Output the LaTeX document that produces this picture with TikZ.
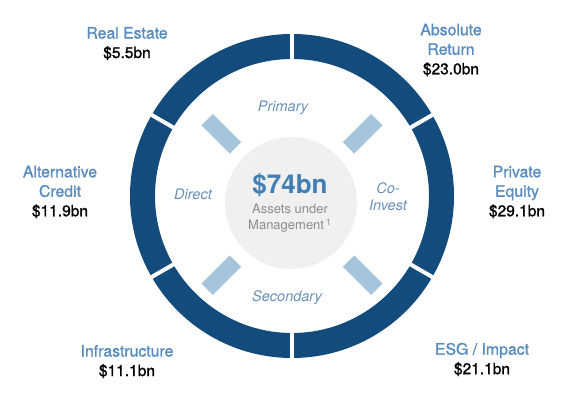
\documentclass[tikz,border=0pt]{standalone}
\usepackage{fontspec}
\setmainfont{TeX Gyre Heros}
\newfontfamily\labelfont[FakeBold=1.2]{TeX Gyre Heros}
\usepackage{xcolor}
\usepackage{tikz}
\usetikzlibrary{positioning}

\definecolor{ringblue}{RGB}{19,75,124}
\definecolor{tabblue}{RGB}{166,196,220}
\definecolor{labelblue}{RGB}{88,140,190}
\definecolor{aumblue}{RGB}{66,128,180}
\definecolor{routeblue}{RGB}{104,144,184}
\definecolor{centergray}{RGB}{240,240,240}
\definecolor{textgray}{RGB}{140,140,140}

\newcommand{\segval}[1]{{\color{black}\fontsize{15.5}{19.5}\selectfont #1}}

\tikzset{
  seglabel/.style={align=center, text=labelblue, inner sep=0pt,
    font=\labelfont\fontsize{15.8}{19.5}\selectfont},
  route/.style={align=center, text=routeblue, inner sep=0pt,
    font=\fontsize{14.5}{17}\selectfont\itshape},
  tab/.style={fill=tabblue, minimum width=40pt, minimum height=16pt, inner sep=0pt}
}

\begin{document}
\begin{tikzpicture}[x=1pt,y=1pt]
    \useasboundingbox (0,0) rectangle (572,396);

    % ring of six segments
    \begin{scope}[shift={(292,200)}]
        \draw[ringblue, line width=25pt] (0,0) circle[radius=149.5];
        \foreach \a in {30,90,...,330}
            \draw[white, line width=4pt] (\a:130) -- (\a:170);
    \end{scope}

    % centre
    \node[circle, fill=centergray, minimum size=132pt, inner sep=0pt] (hub) at (291,193) {};
    \node[text=aumblue, font=\fontsize{26}{28}\selectfont\bfseries, inner sep=0pt] (aum) at (290,211) {\$74bn};
    \node[text=textgray, align=center, font=\fontsize{13}{16}\selectfont, inner sep=0pt,
          below=7pt of aum] (aumtxt) {Assets under\\Management\,\textsuperscript{1}};

    % tabs
    \begin{scope}[shift={(292,191.5)}]
        \foreach \a in {45,135,225,315}
            \node[tab, rotate=\a] (tab\a) at (\a:100) {};
    \end{scope}

    % routes
    \node[route] (primary) at (283,288) {Primary};
    \node[route] (secondary) at (287,98) {Secondary};
    \node[route] (direct) at (193,202) {Direct};
    \node[route] (coinvest) at (388,199.5) {Co-\\Invest};

    % segments
    \node[seglabel] (realestate) at (127,352.5) {Real Estate\\\segval{\$5.5bn}};
    \node[seglabel] (absret) at (451,346) {Absolute\\Return\\\segval{\$23.0bn}};
    \node[seglabel] (altcredit) at (60,204) {Alternative\\Credit\\\segval{\$11.9bn}};
    \node[seglabel] (pe) at (517,204) {Private\\Equity\\\segval{\$29.1bn}};
    \node[seglabel] (infra) at (127,34.5) {Infrastructure\\\segval{\$11.1bn}};
    \node[seglabel] (esg) at (482,36.5) {ESG / Impact\\\segval{\$21.1bn}};
\end{tikzpicture}
\end{document}
